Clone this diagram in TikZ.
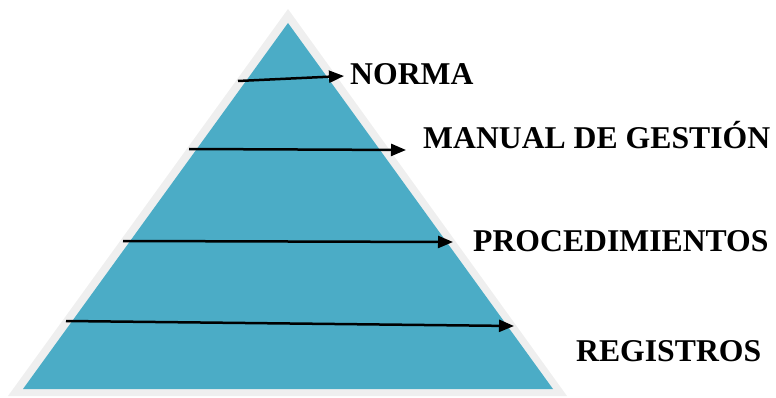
\documentclass[tikz,border=0pt]{standalone}
\usepackage{fontspec}
\setmainfont{Liberation Serif}
\usetikzlibrary{arrows.meta}
\definecolor{teal1}{HTML}{4BACC6}
\definecolor{rim}{HTML}{EFEFEF}
\tikzset{
  lbl/.style={anchor=base west, inner sep=0pt, font=\fontsize{31.7}{31.7}\selectfont\bfseries},
  arr/.style={line width=2.5pt, -{Triangle[length=15pt,width=12pt]}}
}
\begin{document}
\begin{tikzpicture}[x=1pt,y=-1pt]
\useasboundingbox (0,0) rectangle (776,398);
\fill[rim] (288,9) -- (567,396) -- (8,396) -- cycle;
\fill[teal1] (288,23) -- (553,389) -- (23,389) -- cycle;
\node[lbl] (norma) at (350,85) {NORMA};
\node[lbl] (manual) at (423,149) {MANUAL DE GESTIÓN};
\node[lbl] (proc) at (473,251) {PROCEDIMIENTOS};
\node[lbl] (reg) at (576,361) {REGISTROS};
\coordinate (a1) at (238,81);
\coordinate (b1) at (344,76);
\coordinate (a2) at (189,149);
\coordinate (b2) at (406,150);
\coordinate (a3) at (123,241);
\coordinate (b3) at (453,242);
\coordinate (a4) at (66,321);
\coordinate (b4) at (514,326);
\draw[arr] (a1) -- (b1);
\draw[arr] (a2) -- (b2);
\draw[arr] (a3) -- (b3);
\draw[arr] (a4) -- (b4);
\end{tikzpicture}
\end{document}
